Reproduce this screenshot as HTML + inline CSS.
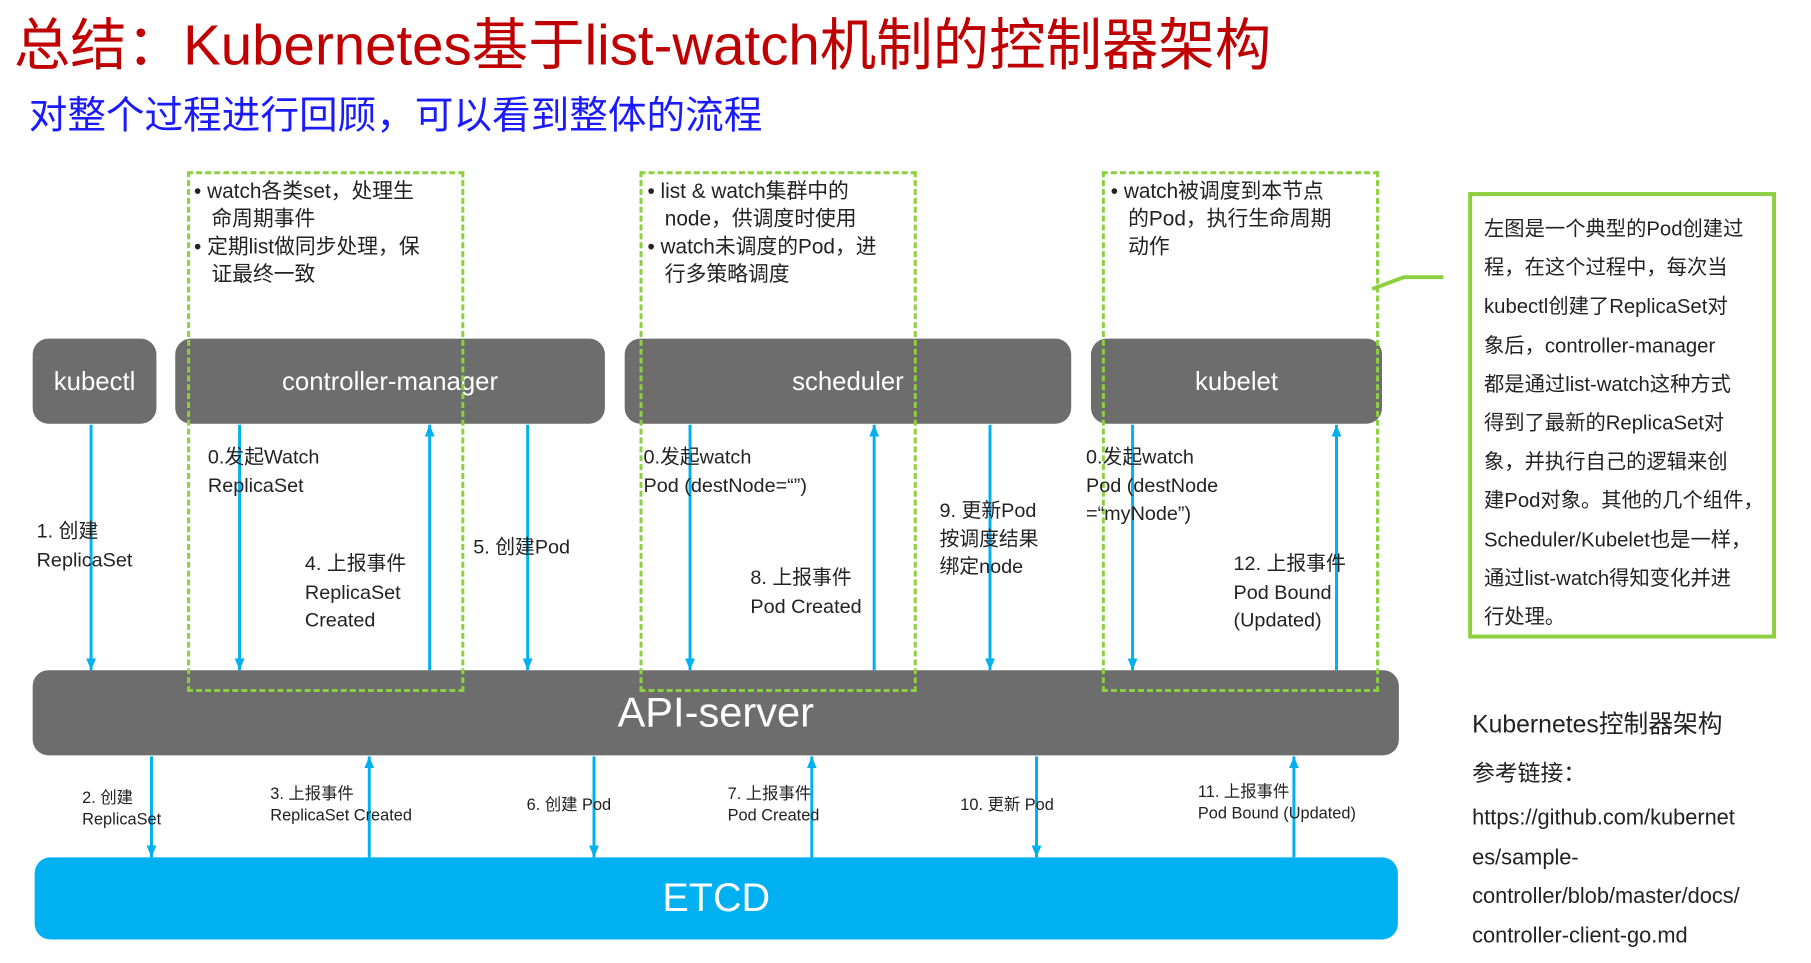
<!DOCTYPE html>
<html><head><meta charset="utf-8"><style>
body{margin:0;width:1811px;height:963px;background:#fff;position:relative;overflow:hidden;font-family:"Liberation Sans","Noto Sans CJK SC",sans-serif;}
#w{position:absolute;left:0;top:0;width:1811px;height:963px;transform:scale(0.99);transform-origin:0 0;}
.a{position:absolute;white-space:nowrap;}
.box{position:absolute;background:#6d6d6d;border-radius:16px;color:#fff;display:flex;align-items:center;justify-content:center;font-size:26px;}
.dash{position:absolute;border:3px dashed #8dcf3f;box-sizing:border-box;}
.lbl{position:absolute;white-space:nowrap;font-size:20px;line-height:28.5px;color:#222;}
.sl{position:absolute;white-space:nowrap;font-size:16.5px;line-height:22px;color:#222;}
.bul{position:absolute;white-space:nowrap;font-size:21px;line-height:28px;color:#222;}
</style></head><body><div id="w">
<div class="a" style="left:14px;top:0px;font-size:57px;color:#c00000;">总结：Kubernetes基于list-watch机制的控制器架构</div>
<div class="a" style="left:29px;top:86px;font-size:39px;color:#1a1aff;">对整个过程进行回顾，可以看到整体的流程</div>

<div class="box" style="left:33px;top:342px;width:125px;height:86px;">kubectl</div>
<div class="box" style="left:177px;top:342px;width:434px;height:86px;">controller-manager</div>
<div class="box" style="left:631px;top:342px;width:451px;height:86px;">scheduler</div>
<div class="box" style="left:1102px;top:342px;width:294px;height:86px;">kubelet</div>
<div class="box" style="left:33px;top:677px;width:1380px;height:86px;font-size:42px;">API-server</div>
<div class="box" style="left:35px;top:866px;width:1377px;height:83px;font-size:40px;background:#00b0f0;">ETCD</div>

<div class="dash" style="left:189px;top:173px;width:280px;height:526px;"></div>
<div class="dash" style="left:646px;top:173px;width:280px;height:526px;"></div>
<div class="dash" style="left:1113px;top:173px;width:280px;height:526px;"></div>

<div class="bul" style="left:196px;top:180px;">•&nbsp;watch各类set，处理生<br>&nbsp;&nbsp;&nbsp;命周期事件<br>•&nbsp;定期list做同步处理，保<br>&nbsp;&nbsp;&nbsp;证最终一致</div>
<div class="bul" style="left:654px;top:180px;">•&nbsp;list &amp; watch集群中的<br>&nbsp;&nbsp;&nbsp;node，供调度时使用<br>•&nbsp;watch未调度的Pod，进<br>&nbsp;&nbsp;&nbsp;行多策略调度</div>
<div class="bul" style="left:1122px;top:180px;">•&nbsp;watch被调度到本节点<br>&nbsp;&nbsp;&nbsp;的Pod，执行生命周期<br>&nbsp;&nbsp;&nbsp;动作</div>

<div style="position:absolute;left:1483px;top:194px;width:311px;height:451px;border:4px solid #8dcf3f;box-sizing:border-box;"></div>
<div class="a" style="left:1499px;top:212px;font-size:20.5px;line-height:39.2px;color:#222;">左图是一个典型的Pod创建过<br>程，在这个过程中，每次当<br>kubectl创建了ReplicaSet对<br>象后，controller-manager<br>都是通过list-watch这种方式<br>得到了最新的ReplicaSet对<br>象，并执行自己的逻辑来创<br>建Pod对象。其他的几个组件，<br>Scheduler/Kubelet也是一样，<br>通过list-watch得知变化并进<br>行处理。</div>

<div class="a" style="left:1487px;top:712px;font-size:25px;color:#222;">Kubernetes控制器架构</div>
<div class="a" style="left:1487px;top:762px;font-size:23px;color:#222;">参考链接：</div>
<div class="a" style="left:1487px;top:806px;font-size:22px;line-height:39.7px;color:#222;">https://github.com/kubernet<br>es/sample-<br>controller/blob/master/docs/<br>controller-client-go.md</div>

<svg width="1811" height="963" style="position:absolute;left:0;top:0;">
<defs>
<marker id="d" viewBox="0 0 10 12" markerWidth="10" markerHeight="12" refX="5" refY="12" orient="0" markerUnits="userSpaceOnUse"><path d="M0,0 L10,0 L5,12Z" fill="#00b0f0"/></marker>
<marker id="u" viewBox="0 0 10 12" markerWidth="10" markerHeight="12" refX="5" refY="0" orient="0" markerUnits="userSpaceOnUse"><path d="M0,12 L10,12 L5,0Z" fill="#00b0f0"/></marker>
</defs>
<g stroke="#00b0f0" stroke-width="3">
<line x1="92" y1="429" x2="92" y2="677" marker-end="url(#d)"/>
<line x1="242" y1="429" x2="242" y2="677" marker-end="url(#d)"/>
<line x1="434" y1="677" x2="434" y2="429" marker-end="url(#u)"/>
<line x1="533" y1="429" x2="533" y2="677" marker-end="url(#d)"/>
<line x1="697" y1="429" x2="697" y2="677" marker-end="url(#d)"/>
<line x1="883" y1="677" x2="883" y2="429" marker-end="url(#u)"/>
<line x1="1000" y1="429" x2="1000" y2="677" marker-end="url(#d)"/>
<line x1="1144" y1="429" x2="1144" y2="677" marker-end="url(#d)"/>
<line x1="1350" y1="677" x2="1350" y2="429" marker-end="url(#u)"/>
<line x1="153" y1="764" x2="153" y2="866" marker-end="url(#d)"/>
<line x1="373" y1="866" x2="373" y2="764" marker-end="url(#u)"/>
<line x1="600" y1="764" x2="600" y2="866" marker-end="url(#d)"/>
<line x1="820" y1="866" x2="820" y2="764" marker-end="url(#u)"/>
<line x1="1047" y1="764" x2="1047" y2="866" marker-end="url(#d)"/>
<line x1="1307" y1="866" x2="1307" y2="764" marker-end="url(#u)"/>
</g>
<polyline points="1386,292 1418,280 1458,280" fill="none" stroke="#8dcf3f" stroke-width="4"/>
</svg>

<div class="lbl" style="left:37px;top:523px;">1. 创建<br>ReplicaSet</div>
<div class="lbl" style="left:210px;top:448px;">0.发起Watch<br>ReplicaSet</div>
<div class="lbl" style="left:308px;top:556px;">4. 上报事件<br>ReplicaSet<br>Created</div>
<div class="lbl" style="left:478px;top:539px;">5. 创建Pod</div>
<div class="lbl" style="left:650px;top:448px;">0.发起watch<br>Pod (destNode=“”)</div>
<div class="lbl" style="left:758px;top:570px;">8. 上报事件<br>Pod Created</div>
<div class="lbl" style="left:949px;top:502px;">9. 更新Pod<br>按调度结果<br>绑定node</div>
<div class="lbl" style="left:1097px;top:448px;">0.发起watch<br>Pod (destNode<br>=“myNode”)</div>
<div class="lbl" style="left:1246px;top:556px;">12. 上报事件<br>Pod Bound<br>(Updated)</div>

<div class="sl" style="left:83px;top:795px;">2. 创建<br>ReplicaSet</div>
<div class="sl" style="left:273px;top:791px;">3. 上报事件<br>ReplicaSet Created</div>
<div class="sl" style="left:532px;top:802px;">6. 创建 Pod</div>
<div class="sl" style="left:735px;top:791px;">7. 上报事件<br>Pod Created</div>
<div class="sl" style="left:970px;top:802px;">10. 更新 Pod</div>
<div class="sl" style="left:1210px;top:789px;">11. 上报事件<br>Pod Bound (Updated)</div>
</div></body></html>
